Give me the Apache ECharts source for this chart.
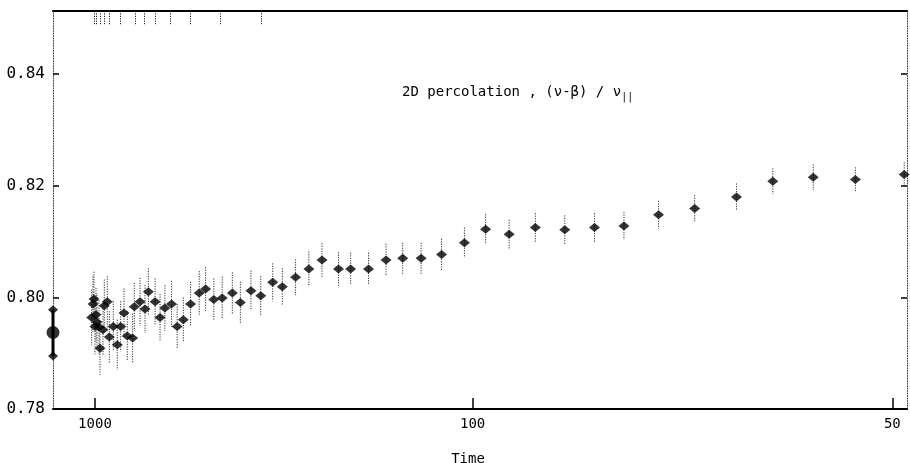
<!DOCTYPE html>
<html>
<head>
<meta charset="utf-8">
<script src="https://cdn.jsdelivr.net/npm/echarts@6/dist/echarts.min.js"></script>
<style>
  html, body { margin: 0; padding: 0; background: #fff; }
  #chart { width: 910px; height: 463px; }
</style>
</head>
<body>
<div id="chart"></div>
<script>
// Time of each measurement (axis is linear in 1/Time)
var times = [1085, 1049, 1024, 1000, 976, 954, 912, 893, 839, 818, 773, 745, 696, 653, 620, 591, 565, 527, 516, 482, 456, 440,
             411, 392, 375, 354, 338, 322, 305, 287, 275, 261, 248, 234, 224, 212, 202, 191,
             183, 173, 164, 156, 147, 141, 133, 126, 120, 114, 108, 102, 97, 92, 87, 82, 77.5, 73.5, 69.3, 65.4, 61.4, 58.3, 55.2, 52.3, 49.3];
var values = [0.7964, 0.7988, 0.7997, 0.7948, 0.7969, 0.7956, 0.7947, 0.7909, 0.7942, 0.7985, 0.7992, 0.7929, 0.7948, 0.7915, 0.7948, 0.7972, 0.7931, 0.7927, 0.7983, 0.7992, 0.7979, 0.8010,
              0.7992, 0.7964, 0.7981, 0.7988, 0.7948, 0.7960, 0.7988, 0.8008, 0.8015, 0.7996, 0.7999, 0.8008, 0.7991, 0.8012, 0.8003, 0.8027,
              0.8019, 0.8036, 0.8051, 0.8067, 0.8051, 0.8051, 0.8051, 0.8067, 0.8070, 0.8070, 0.8077, 0.8098, 0.8122, 0.8113, 0.8125, 0.8121, 0.8125, 0.8128, 0.8148, 0.8159, 0.8180, 0.8208, 0.8215, 0.8211, 0.8220];
// half length of each error bar
var errors = [0.0050, 0.0050, 0.0049, 0.0050, 0.0048, 0.0049, 0.0048, 0.0048, 0.0047, 0.0047, 0.0046, 0.0046, 0.0045, 0.0045, 0.0045, 0.0044, 0.0044, 0.0044, 0.0043, 0.0043, 0.0043, 0.0042,
              0.0042, 0.0042, 0.0041, 0.0041, 0.0040, 0.0040, 0.0040, 0.0039, 0.0039, 0.0038, 0.0038, 0.0037, 0.0037, 0.0036, 0.0035, 0.0034,
              0.0033, 0.0032, 0.0031, 0.0030, 0.0030, 0.0029, 0.0029, 0.0029, 0.0028, 0.0028, 0.0028, 0.0027, 0.0027, 0.0026, 0.0026, 0.0026, 0.0026, 0.0025, 0.0025, 0.0024, 0.0024, 0.0023, 0.0023, 0.0022, 0.0022];

// extrapolated value at infinite time (1/Time = 0)
var extrapValue = 0.7937;
var extrapLow = 0.7895;
var extrapHigh = 0.7978;

// tick labels on the Time axis, and the short marks along the top frame
var timeTicks = [1000, 100, 50];
var topMarkTimes = [1024, 960, 893, 818, 745, 626, 512, 461, 409, 359, 305, 251, 202];

var FONT = 'DejaVu Sans Mono';

var points = [], bars = [];
for (var i = 0; i < times.length; i++) {
    var inv = 1 / times[i];
    points.push([inv, values[i]]);
    bars.push([inv, values[i] - errors[i], values[i] + errors[i]]);
}

function renderBar(params, api) {
    var top = api.coord([api.value(0), api.value(2)]);
    var bot = api.coord([api.value(0), api.value(1)]);
    return {
        type: 'line',
        shape: { x1: top[0], y1: top[1], x2: bot[0], y2: bot[1] },
        style: { stroke: '#333', lineWidth: 1, lineDash: [1.2, 1.3] }
    };
}

function renderExtrap(params, api) {
    var top = api.coord([api.value(0), api.value(2)]);
    var bot = api.coord([api.value(0), api.value(1)]);
    return {
        type: 'line',
        shape: { x1: top[0], y1: top[1], x2: bot[0], y2: bot[1] },
        style: { stroke: '#000', lineWidth: 3 }
    };
}

var chart = echarts.init(document.getElementById('chart'), null, { renderer: 'canvas' });

var option = {
    animation: false,
    backgroundColor: '#fff',
    textStyle: { fontFamily: FONT, color: '#000' },
    title: [
        {
            text: '{a|2D percolation , (ν-β) / ν}{s|||}',
            left: 397, top: 77,
            textStyle: {
                fontWeight: 'normal',
                rich: {
                    a: { fontFamily: FONT, fontSize: 14, fontWeight: 'normal', color: '#000' },
                    s: { fontFamily: FONT, fontSize: 10, fontWeight: 'normal', color: '#000', padding: [10, 0, 0, 0] }
                }
            }
        },
        {
            text: 'Time',
            left: 463, top: 447, textAlign: 'center',
            textStyle: { fontFamily: FONT, fontSize: 14, fontWeight: 'normal', color: '#000' }
        }
    ],
    grid: { left: 53, right: 3, top: 11, bottom: 54, containLabel: false },
    xAxis: [
        {
            type: 'value', position: 'bottom',
            min: 0, max: 0.02035,
            splitLine: { show: false },
            axisLine: { onZero: false, lineStyle: { color: '#000', width: 2 } },
            axisTick: {
                inside: true, length: 11,
                customValues: timeTicks.map(function (t) { return 1 / t; }),
                lineStyle: { color: '#000', width: 1.5 }
            },
            axisLabel: {
                customValues: timeTicks.map(function (t) { return 1 / t; }),
                formatter: function (v) { return String(Math.round(1 / v)); },
                fontFamily: FONT, fontSize: 14, color: '#000', margin: 8
            }
        },
        {
            type: 'value', position: 'top',
            min: 0, max: 0.02035,
            splitLine: { show: false },
            axisLine: { onZero: false, lineStyle: { color: '#000', width: 2 } },
            axisTick: {
                inside: true, length: 14,
                customValues: topMarkTimes.map(function (t) { return 1 / t; }),
                lineStyle: { color: '#222', width: 1, type: [1.2, 1.2] }
            },
            axisLabel: { show: false }
        }
    ],
    yAxis: [
        {
            type: 'value', position: 'left',
            min: 0.78, max: 0.8513, interval: 0.02,
            splitLine: { show: false },
            axisLine: { onZero: false, lineStyle: { color: '#444', width: 1, type: [1, 1.5] } },
            axisTick: { inside: true, length: 6, lineStyle: { color: '#000', width: 1.5 } },
            axisLabel: {
                showMaxLabel: false,
                formatter: function (v) { return v.toFixed(2); },
                fontFamily: FONT, fontSize: 16, color: '#000', margin: 8
            }
        },
        {
            type: 'value', position: 'right',
            min: 0.78, max: 0.8513, interval: 0.02,
            splitLine: { show: false },
            axisLine: { onZero: false, lineStyle: { color: '#444', width: 1, type: [1, 1.5] } },
            axisTick: { inside: true, length: 6, lineStyle: { color: '#000', width: 1.5 } },
            axisLabel: { show: false }
        }
    ],
    series: [
        {
            name: 'error', type: 'custom',
            renderItem: renderBar,
            encode: { x: 0, y: [1, 2] },
            data: bars, clip: true, z: 2
        },
        {
            name: 'estimate', type: 'scatter',
            symbol: 'diamond', symbolSize: [11, 9],
            itemStyle: { color: '#000' },
            data: points, clip: true, z: 3
        },
        {
            name: 'extrapolation bar', type: 'custom',
            renderItem: renderExtrap,
            encode: { x: 0, y: [1, 2] },
            data: [[0, extrapLow, extrapHigh]], clip: false, z: 3
        },
        {
            name: 'extrapolation ends', type: 'scatter',
            symbol: 'diamond', symbolSize: [10, 9],
            itemStyle: { color: '#000' },
            data: [[0, extrapLow], [0, extrapHigh]], clip: false, z: 4
        },
        {
            name: 'extrapolation', type: 'scatter',
            symbol: 'circle', symbolSize: 13,
            itemStyle: { color: '#000' },
            data: [[0, extrapValue]], clip: false, z: 5
        }
    ]
};

chart.setOption(option);
</script>
</body>
</html>
